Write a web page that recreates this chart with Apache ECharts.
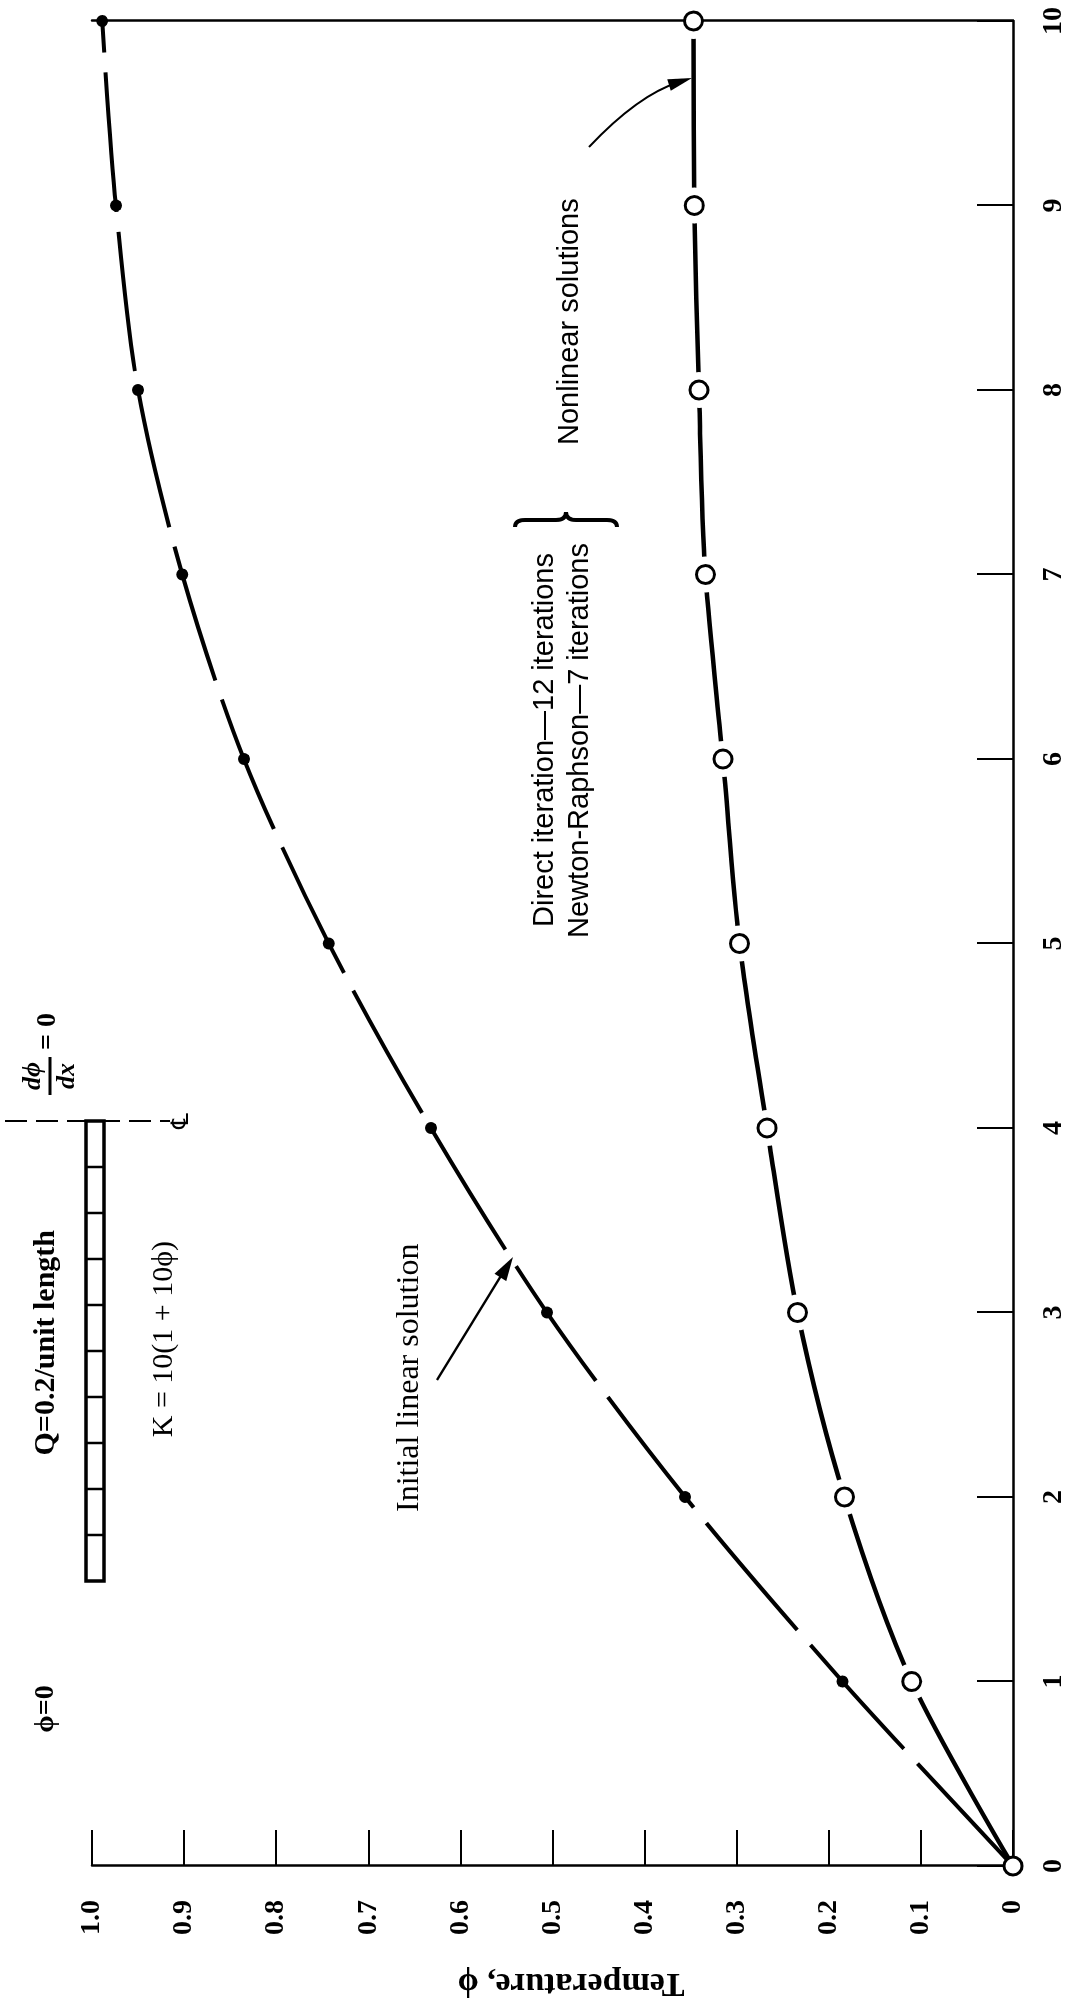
<!DOCTYPE html>
<html>
<head>
    <meta charset="utf-8">
    <title>Temperature - linear and nonlinear solutions</title>
    <script src="https://cdn.jsdelivr.net/npm/echarts/dist/echarts.min.js"></script>
    <style>
        html, body { margin: 0; padding: 0; background: #fff; overflow: hidden; width: 1076px; height: 2001px; }
        /* the figure is printed sideways: draw it upright, then turn it a quarter turn */
        #chart { position: absolute; left: 0; top: 0; width: 2001px; height: 1076px;
                 transform-origin: 0 0; transform: translateY(2001px) rotate(-90deg); }
    </style>
</head>
<body>
<div id="chart"></div>
<script type="text/javascript">
    // distance along the bar (x) and temperature phi
    var positions = [0, 1, 2, 3, 4, 5, 6, 7, 8, 9, 10];
    var linearPhi = [0, 0.185, 0.356, 0.506, 0.632, 0.743, 0.835, 0.902, 0.950, 0.974, 0.989];
    var nonlinearPhi = [0, 0.110, 0.183, 0.234, 0.267, 0.297, 0.315, 0.334, 0.341, 0.346, 0.347];
    var xTicks = [0, 1, 2, 3, 4, 5, 6, 7, 8, 9, 10];
    var phiTicks = ['0', '0.1', '0.2', '0.3', '0.4', '0.5', '0.6', '0.7', '0.8', '0.9', '1.0'];

    var serif = "'Liberation Serif', 'Times New Roman', serif";
    var sans = "'Liberation Sans', Arial, sans-serif";

    function pairs(ys, from) {
        var out = [];
        for (var i = from || 0; i < positions.length; i++) {
            out.push([positions[i], ys[i]]);
        }
        return out;
    }

    function text(str, x, y, o) {
        o = o || {};
        return {
            type: 'text', x: x, y: y, rotation: o.rotation || 0, silent: true, z: 10,
            style: {
                text: str, fill: '#000',
                fontFamily: o.family || serif, fontSize: o.size || 30,
                fontWeight: o.weight || 'normal', fontStyle: o.style || 'normal',
                align: o.align || 'left', verticalAlign: 'middle'
            }
        };
    }

    function line(x1, y1, x2, y2, w, dash) {
        return {
            type: 'line', silent: true, z: 10,
            shape: {x1: x1, y1: y1, x2: x2, y2: y2},
            style: {stroke: '#000', lineWidth: w, lineDash: dash || null}
        };
    }

    function curve(x1, y1, cx, cy, x2, y2, w) {
        return {
            type: 'bezierCurve', silent: true, z: 10,
            shape: {x1: x1, y1: y1, x2: x2, y2: y2, cpx1: cx, cpy1: cy},
            style: {fill: null, stroke: '#000', lineWidth: w}
        };
    }

    function head(tipX, tipY, fromX, fromY, len, half) {
        var dx = tipX - fromX, dy = tipY - fromY;
        var d = Math.sqrt(dx * dx + dy * dy);
        dx /= d; dy /= d;
        var bx = tipX - dx * len, by = tipY - dy * len;
        return {
            type: 'polygon', silent: true, z: 10,
            shape: {points: [[tipX, tipY], [bx - dy * half, by + dx * half], [bx + dy * half, by - dx * half]]},
            style: {fill: '#000'}
        };
    }

    var elements = [
        // axis title
        text('Temperature, \u03d5', 18, 571, {rotation: Math.PI / 2, align: 'center', size: 34, weight: 'bold'}),

        // bar sketch
        {type: 'rect', silent: true, z: 10, shape: {x: 420, y: 86, width: 460, height: 18},
            style: {fill: null, stroke: '#000', lineWidth: 3.5}},
        line(880, 5, 880, 170, 2, [22, 9]),
        text('\u2104', 880, 182, {family: "'DejaVu Sans', sans-serif", size: 24, align: 'center'}),
        text('\u03d5=0', 292, 46, {size: 28, weight: 'bold', align: 'center'}),
        text('Q=0.2/unit length', 771, 46, {size: 30, weight: 'bold', align: 'right'}),
        text('K = 10(1 + 10\u03d5)', 760, 164, {size: 30, align: 'right'}),
        text('d\u03d5', 925, 33, {size: 26, weight: 'bold', style: 'italic', align: 'center'}),
        line(906, 50, 944, 50, 3),
        text('dx', 925, 67, {size: 26, weight: 'bold', style: 'italic', align: 'center'}),
        text('= 0', 951, 48, {size: 28, weight: 'bold'}),

        // initial linear solution note
        text('Initial linear solution', 489, 410, {size: 32}),
        line(621, 437, 735, 507, 2.5),
        head(744, 513, 621, 437, 24, 7),

        // nonlinear notes
        text('Direct iteration\u201412 iterations', 1448, 545, {family: sans, size: 29, align: 'right'}),
        text('Newton-Raphson\u20147 iterations', 1458, 580, {family: sans, size: 29, align: 'right'}),
        curve(1474, 515, 1481, 515, 1481, 525, 4),
        line(1481, 525, 1481, 556, 4),
        curve(1481, 556, 1481, 566, 1489, 566, 4),
        curve(1489, 566, 1481, 566, 1481, 576, 4),
        line(1481, 576, 1481, 607, 4),
        curve(1481, 607, 1481, 617, 1474, 617, 4),
        text('Nonlinear solutions', 1556, 570, {family: sans, size: 29}),
        curve(1854, 589, 1906, 638, 1919, 679, 2),
        head(1923, 692, 1908, 643, 24, 6)
    ];
    // cell divisions of the bar
    for (var k = 1; k < 10; k++) {
        elements.push(line(420 + 46 * k, 86, 420 + 46 * k, 104, 2.5));
    }

    var chart = echarts.init(document.getElementById('chart'));
    var option = {
        backgroundColor: '#fff',
        animation: false,
        grid: {left: 135, right: 21, top: 92, bottom: 63},
        xAxis: {
            type: 'value', min: 0, max: 10, interval: 1,
            axisLine: {show: true, lineStyle: {color: '#000', width: 2.5}},
            axisTick: {show: true, inside: true, length: 36, lineStyle: {color: '#000', width: 2}},
            axisLabel: {
                margin: 27, color: '#000', fontFamily: serif, fontSize: 28, fontWeight: 'bold',
                formatter: function (v) { return String(xTicks[Math.round(v)]); }
            },
            splitLine: {show: false}
        },
        yAxis: [{
            type: 'value', min: 0, max: 1, interval: 0.1,
            axisLine: {show: true, lineStyle: {color: '#000', width: 2.5}},
            axisTick: {show: true, inside: true, length: 36, lineStyle: {color: '#000', width: 2}},
            axisLabel: {
                margin: 34, color: '#000', fontFamily: serif, fontSize: 28, fontWeight: 'bold',
                formatter: function (v) { return phiTicks[Math.round(v * 10)]; }
            },
            splitLine: {show: false}
        }, {
            // closing line at the centre of the bar (x = 10)
            type: 'value', min: 0, max: 1, position: 'right', z: 4,
            axisLine: {show: true, onZero: false, lineStyle: {color: '#000', width: 2.5}},
            axisTick: {show: false}, axisLabel: {show: false}, splitLine: {show: false}
        }],
        series: [{
            name: 'Initial linear solution',
            type: 'line', z: 2,
            data: pairs(linearPhi),
            smooth: 0.3,
            showSymbol: false,
            lineStyle: {color: '#000', width: 4, type: [140, 20]}
        }, {
            name: 'Nonlinear solutions',
            type: 'line', z: 2,
            data: pairs(nonlinearPhi),
            smooth: 0.3,
            showSymbol: false,
            lineStyle: {color: '#000', width: 4.5}
        }, {
            // white halo that breaks the curve around each circle
            type: 'scatter', z: 3, silent: true,
            data: pairs(nonlinearPhi, 1),
            symbolSize: 36,
            itemStyle: {color: '#fff', opacity: 1}
        }, {
            type: 'scatter', z: 6, silent: true,
            data: pairs(nonlinearPhi),
            symbolSize: 18,
            itemStyle: {color: '#fff', borderColor: '#000', borderWidth: 3, opacity: 1}
        }, {
            type: 'scatter', z: 6, silent: true,
            data: pairs(linearPhi, 1),
            symbolSize: 12,
            itemStyle: {color: '#000', opacity: 1}
        }],
        graphic: {elements: elements}
    };
    chart.setOption(option);
</script>
</body>
</html>
